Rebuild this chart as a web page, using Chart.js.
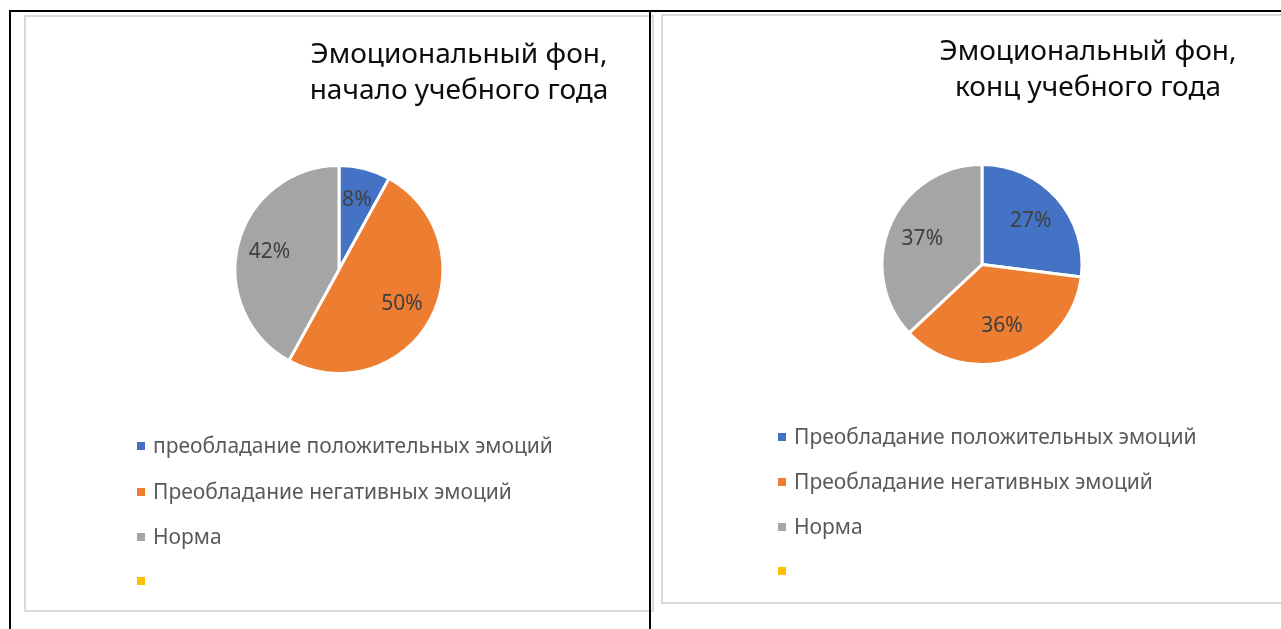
<!DOCTYPE html>
<html>
<head>
<meta charset="utf-8">
<script src="https://cdn.jsdelivr.net/npm/chart.js@4/dist/chart.umd.min.js"></script>
<style>
    body { margin: 0; background: #ffffff; width: 1281px; height: 629px; overflow: hidden; position: relative; }
    .line { position: absolute; background: #000000; }
    .box { position: absolute; border: 2px solid #d9d9d9; box-sizing: border-box; background: #ffffff; }
    .box canvas { position: absolute; left: 0; top: 0; }
</style>
</head>
<body>
<div class="box" id="boxStart" style="left:24px; top:15px; width:630px; height:597px;">
    <canvas id="chartStart" width="626" height="596"></canvas>
</div>
<div class="box" id="boxEnd" style="left:661px; top:14px; width:640px; height:590px;">
    <canvas id="chartEnd" width="640" height="590"></canvas>
</div>
<div class="line" style="left:10px; top:10px; width:1271px; height:2px;"></div>
<div class="line" style="left:9px; top:10px; width:2px; height:619px;"></div>
<div class="line" style="left:649px; top:10px; width:2px; height:619px;"></div>

<script>
    const categoriesStart = ['преобладание положительных эмоций', 'Преобладание негативных эмоций', 'Норма', ''];
    const categoriesEnd = ['Преобладание положительных эмоций', 'Преобладание негативных эмоций', 'Норма', ''];
    const valuesStart = [8, 50, 42, 0];
    const valuesEnd = [27, 36, 37, 0];
    const titleStart = ['Эмоциональный фон,', 'начало учебного года'];
    const titleEnd = ['Эмоциональный фон,', 'конц учебного года'];
    const sliceColors = ['#4472c4', '#ed7d31', '#a5a5a5', '#ffc000'];

    const FONT = '"Noto Sans", "Open Sans", sans-serif';

    // подписи процентов, заголовок и легенда в стиле Excel
    const excelLook = {
        id: 'excelLook',
        afterDatasetsDraw(chart, args, opts) {
            const ctx = chart.ctx;
            const data = chart.data.datasets[0].data;
            const total = data.reduce((a, b) => a + b, 0);
            const meta = chart.getDatasetMeta(0);
            ctx.save();
            ctx.font = '21px ' + FONT;
            ctx.fillStyle = '#404040';
            ctx.textAlign = 'center';
            ctx.textBaseline = 'middle';
            meta.data.forEach(function(arc, i) {
                if (!data[i]) return;
                const p = arc.getProps(['x', 'y', 'startAngle', 'endAngle', 'outerRadius'], true);
                const mid = (p.startAngle + p.endAngle) / 2;
                const r = p.outerRadius * opts.labelRadius;
                ctx.fillText(Math.round(data[i] / total * 100) + '%', p.x + Math.cos(mid) * r, p.y + Math.sin(mid) * r);
            });
            ctx.restore();
        },
        afterDraw(chart, args, opts) {
            const ctx = chart.ctx;
            ctx.save();
            ctx.font = '28px ' + FONT;
            ctx.fillStyle = '#0d0d0d';
            ctx.textAlign = 'center';
            ctx.textBaseline = 'alphabetic';
            opts.title.forEach(function(line, i) {
                ctx.fillText(line, opts.titleX, opts.titleY[i]);
            });

            const colors = chart.data.datasets[0].backgroundColor;
            ctx.font = '21px ' + FONT;
            ctx.textAlign = 'left';
            ctx.textBaseline = 'middle';
            chart.data.labels.forEach(function(label, i) {
                const y = opts.legendY[i];
                ctx.fillStyle = colors[i];
                ctx.fillRect(opts.legendX, y - 4, 8, 8);
                ctx.fillStyle = '#595959';
                ctx.fillText(label, opts.legendX + 16, y + 1);
            });
            ctx.restore();
        }
    };

    function makePie(id, labels, values, radius, padding, look) {
        return new Chart(document.getElementById(id).getContext('2d'), {
            type: 'pie',
            data: {
                labels: labels,
                datasets: [{
                    data: values,
                    backgroundColor: sliceColors,
                    borderColor: '#ffffff',
                    borderWidth: 3,
                    radius: radius
                }]
            },
            options: {
                responsive: false,
                animation: false,
                devicePixelRatio: 1,
                layout: { padding: padding },
                plugins: {
                    legend: { display: false },
                    title: { display: false },
                    tooltip: { enabled: false },
                    excelLook: look
                }
            },
            plugins: [excelLook]
        });
    }

    makePie('chartStart', categoriesStart, valuesStart, 104,
        { left: 0, right: 0, top: 0, bottom: 91 },
        { title: titleStart, titleX: 433, titleY: [46, 82], labelRadius: 0.69,
          legendX: 111, legendY: [429, 475, 520, 564] });

    makePie('chartEnd', categoriesEnd, valuesEnd, 100,
        { left: 0, right: 2, top: 0, bottom: 93 },
        { title: titleEnd, titleX: 425, titleY: [44, 80], labelRadius: 0.65,
          legendX: 115, legendY: [421, 466, 511, 555] });
</script>
</body>
</html>
